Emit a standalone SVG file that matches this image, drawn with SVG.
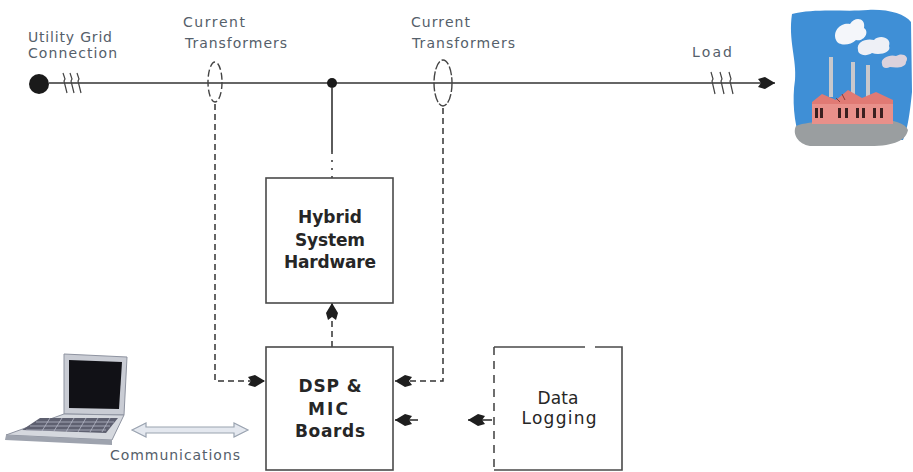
<svg xmlns="http://www.w3.org/2000/svg" width="913" height="472" viewBox="0 0 913 472">
  <style>
    .lbl { font-family: "DejaVu Sans", "Liberation Sans", sans-serif; font-size: 14px; fill: #55606a; }
    .box { fill: #ffffff; stroke: #4a4a4a; stroke-width: 1.6; }
    .btxt { font-family: "DejaVu Sans", "Liberation Sans", sans-serif; font-size: 17px; font-weight: bold; fill: #262626; text-anchor: middle; }
    .dtxt { font-family: "DejaVu Sans", "Liberation Sans", sans-serif; font-size: 17px; fill: #262626; text-anchor: middle; }
    .wire { fill: none; stroke: #333333; stroke-width: 1.6; }
    .dash { fill: none; stroke: #333333; stroke-width: 1.5; stroke-dasharray: 6 4; }
    .tick { fill: none; stroke: #444444; stroke-width: 1.2; }
  </style>
  <defs>
    <marker id="head" markerUnits="userSpaceOnUse" markerWidth="18" markerHeight="12" refX="17" refY="6" orient="auto">
      <path d="M0,2 L7,0 L17,6 L7,12 L0,10 L3,6 z" fill="#1e1e1e"/>
    </marker>
  </defs>

  <rect width="913" height="472" fill="#ffffff"/>

  <!-- power line from grid to load -->
  <g id="power-line">
    <circle cx="39" cy="84" r="10" fill="#1a1a1a"/>
    <path class="wire" d="M49,83 H775" marker-end="url(#head)"/>
    <path class="tick" d="M63,73 l2,6 l-1,2 l3,12 M70,73 l2,6 l-1,2 l3,12 M77,73 l2,6 l-1,2 l3,12"/>
    <path class="tick" d="M711,72 l2,7 l-1,2 l3,13 M720,72 l2,7 l-1,2 l3,13 M729,72 l2,7 l-1,2 l3,13"/>
    <circle cx="332" cy="83" r="5" fill="#1a1a1a"/>
    <text class="lbl" x="28" y="42" textLength="84">Utility Grid</text>
    <text class="lbl" x="28" y="58" textLength="89">Connection</text>
    <text class="lbl" x="692" y="57" textLength="40">Load</text>
  </g>

  <!-- current transformers -->
  <g id="ct-1">
    <ellipse cx="215" cy="82" rx="7" ry="20" fill="none" stroke="#444" stroke-width="1.4" stroke-dasharray="7 3"/>
    <text class="lbl" x="183" y="27" textLength="62">Current</text>
    <text class="lbl" x="185" y="48" textLength="102">Transformers</text>
  </g>
  <g id="ct-2">
    <ellipse cx="443" cy="83" rx="9" ry="23" fill="none" stroke="#444" stroke-width="1.4" stroke-dasharray="9 2"/>
    <text class="lbl" x="411" y="27" textLength="59">Current</text>
    <text class="lbl" x="412" y="48" textLength="103">Transformers</text>
  </g>

  <!-- connectors -->
  <g id="connectors">
    <path class="wire" d="M332,88 V152"/>
    <path fill="none" stroke="#333" stroke-width="1.5" stroke-dasharray="2 6" d="M332,152 V178"/>
    <path class="dash" d="M215,104 V381 H265" marker-end="url(#head)"/>
    <path class="dash" d="M443,108 V381 H395" marker-end="url(#head)"/>
    <path class="dash" d="M332,347 V303" marker-end="url(#head)"/>
    <path class="wire" d="M418,420 H395" marker-end="url(#head)"/>
    <path class="wire" d="M492,420 H468" marker-end="url(#head)"/>
    <!-- communications double arrow -->
    <path d="M132,430 L146,423 L146,427 L234,427 L234,423 L248,430 L234,437 L234,433 L146,433 L146,437 z" fill="#e4e8ef" stroke="#9aa3b0" stroke-width="1.2"/>
    <text class="lbl" x="110" y="460" textLength="130">Communications</text>
  </g>

  <!-- hybrid system hardware -->
  <g id="hybrid">
    <rect class="box" x="266" y="178" width="127" height="125"/>
    <text class="btxt" x="330" y="223" textLength="64">Hybrid</text>
    <text class="btxt" x="330" y="246" textLength="70">System</text>
    <text class="btxt" x="330" y="268" textLength="92">Hardware</text>
  </g>

  <!-- dsp board -->
  <g id="dsp">
    <rect class="box" x="266" y="347" width="127" height="123"/>
    <text class="btxt" x="330" y="392" textLength="63">DSP &amp;</text>
    <text class="btxt" x="328" y="415" textLength="40">MIC</text>
    <text class="btxt" x="330" y="437" textLength="70">Boards</text>
  </g>

  <!-- data logging -->
  <g id="datalog">
    <path d="M494,347 H585 M595,347 H622 V470 H494" fill="none" stroke="#4a4a4a" stroke-width="1.6"/>
    <path d="M494,347 V470" fill="none" stroke="#4a4a4a" stroke-width="1.6" stroke-dasharray="8 6"/>
    <text class="dtxt" x="558" y="404" textLength="41">Data</text>
    <text class="dtxt" x="559" y="424" textLength="75">Logging</text>
  </g>

  <!-- laptop -->
  <g id="laptop">
    <path d="M64,354 L127,357 L124,415 L64,414 z" fill="#c9ccd4" stroke="#8e93a0" stroke-width="1"/>
    <path d="M69,360 L122,362 L119,409 L69,408 z" fill="#111116"/>
    <path d="M64,414 L124,415 L112,440 L6,435 z" fill="#d5d8de" stroke="#8e93a0" stroke-width="1"/>
    <path d="M6,435 L112,440 L112,445 L5,440 z" fill="#9ea3ae"/>
    <path d="M40,418 L118,418 L106,433 L22,430 z" fill="#5e6070"/>
    <path d="M36,422 H114 M30,426 H110 M26,430 H106 M50,418 l-8,13 M62,418 l-8,13 M74,418 l-8,14 M86,418 l-8,14 M98,418 l-8,14 M110,418 l-8,14" stroke="#b5b8c6" stroke-width="0.8" fill="none"/>
  </g>

  <!-- factory -->
  <g id="factory">
    <path d="M792,14 C815,8 845,12 868,10 C888,9 905,14 911,22 L912,92 C910,112 908,128 903,140 L800,140 C794,122 792,100 795,80 C797,60 788,40 792,14 z" fill="#3f8fd6"/>
    <path d="M836,40 C832,30 842,22 850,24 C855,16 866,18 864,28 C870,32 864,42 856,40 C850,46 838,46 836,40 z" fill="#f4f6fa"/>
    <path d="M858,50 C856,42 866,38 874,40 C880,34 892,38 889,46 C892,52 880,56 872,53 C866,57 858,55 858,50 z" fill="#eef0f6"/>
    <path d="M882,64 C880,58 890,54 896,56 C902,52 910,56 906,62 C906,68 896,68 890,67 C886,69 882,68 882,64 z" fill="#dcd2dc"/>
    <rect x="829" y="57" width="4" height="40" fill="#c8c8cc"/>
    <rect x="851" y="62" width="4" height="36" fill="#c8c8cc"/>
    <rect x="866" y="65" width="4" height="34" fill="#c8c8cc"/>
    <path d="M796,126 C810,120 840,122 870,120 C890,119 905,122 908,130 C906,140 895,146 870,146 L810,146 C798,144 792,134 796,126 z" fill="#9a9ea0"/>
    <path d="M812,124 L812,102 L822,94 L836,100 L848,90 L862,98 L876,92 L893,100 L893,124 z" fill="#e07a74"/>
    <rect x="812" y="104" width="81" height="20" fill="#e8908a"/>
    <g fill="#3a2020">
      <rect x="815" y="108" width="3" height="10"/>
      <rect x="820" y="108" width="3" height="10"/>
      <rect x="838" y="108" width="3" height="10"/>
      <rect x="845" y="108" width="3" height="10"/>
      <rect x="856" y="108" width="3" height="10"/>
      <rect x="862" y="108" width="3" height="10"/>
      <rect x="873" y="108" width="3" height="10"/>
      <rect x="880" y="108" width="3" height="10"/>
    </g>
    <path d="M836,98 l4,4 M842,94 l3,6" stroke="#8a3a34" stroke-width="1"/>
  </g>
</svg>
